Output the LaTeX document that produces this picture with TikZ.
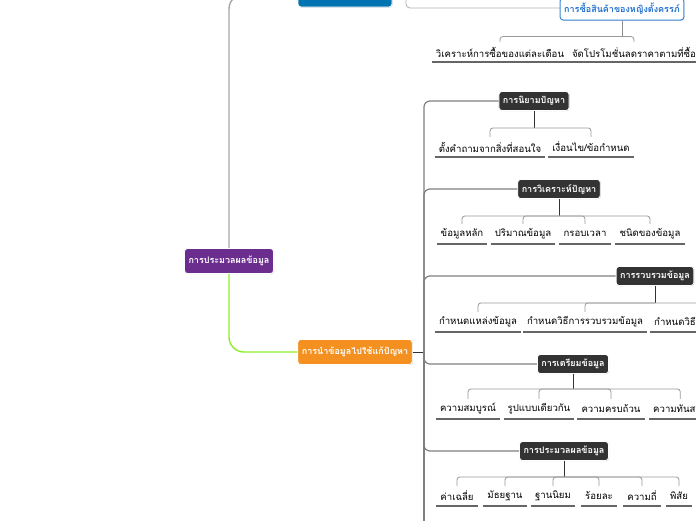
\documentclass[tikz,border=0pt]{standalone}
\usepackage{fontspec}
\setmainfont[Script=Thai]{Loma}
\usetikzlibrary{shadows}
\definecolor{purp}{HTML}{6B2D8E}
\definecolor{orng}{HTML}{F39020}
\definecolor{blu}{HTML}{0073B3}
\definecolor{blueline}{HTML}{3A86D8}
\definecolor{bluetext}{HTML}{1F6FD0}
\definecolor{lime}{HTML}{8CF02A}
\begin{document}
\begin{tikzpicture}[x=1pt,y=-1pt,
  font=\fontsize{9.6}{11}\selectfont,
  topic/.style={rounded corners=3pt, text=white, font=\bfseries\fontsize{9}{10}\selectfont,
    inner xsep=4pt, inner ysep=0pt, minimum height=19pt, draw=white, line width=0.8pt,
    drop shadow={shadow xshift=0.6pt, shadow yshift=-0.6pt, opacity=0.35}},
  darknode/.style={topic, fill=black!80},
  leaf/.style={minimum height=20pt, inner xsep=4pt, inner ysep=0pt},
  uline/.style={draw=black!60, line width=1.6pt},
  br/.style={draw=black!40, line width=0.8pt, rounded corners=3pt},
  stem/.style={draw=black!80, line width=1pt},
  trunk/.style={draw=black!50, line width=1.2pt, rounded corners=6pt}]
\useasboundingbox (0,0) rectangle (696,520);
\clip (0,0) rectangle (696,520);
\fill[white] (0,0) rectangle (696,520);

% top grey frame
\draw[black!30, line width=0.8pt, rounded corners=4pt] (406,-60) rectangle (620,8);

% main nodes
\node[topic, fill=purp, minimum width=88pt, minimum height=25pt] (root) at (229,261) {การประมวลผลข้อมูล};
\node[topic, fill=blu, minimum width=94pt, minimum height=26pt] (blue) at (345,-6) {};
\node[topic, fill=orng, minimum width=113pt, minimum height=25pt] (use) at (355,352) {การนำข้อมูลไปใช้แก้ปัญหา};

\draw[draw=black!35, line width=1.4pt, rounded corners=15pt] (root.north) |- (blue.west);
\draw[draw=lime, line width=1.4pt, rounded corners=15pt] (root.south) |- (use.west);

% top blue-outline node
\node[rounded corners=3pt, draw=blueline, line width=1pt, fill=white, text=bluetext,
  font=\bfseries\fontsize{9}{10}\selectfont, minimum height=22pt, inner xsep=4pt, inner ysep=0pt,
  drop shadow={shadow xshift=0.6pt, shadow yshift=-0.6pt, opacity=0.3}] (buy) at (622,9) {การซื้อสินค้าของหญิงตั้งครรภ์};

% hub
\coordinate (hub) at (424,352);
\coordinate (down) at (424,530);
\draw[stem] (use.east) -- (hub);

\node[darknode] (n1) at (534,101) {การนิยามปัญหา};
\node[darknode] (n2) at (559,189) {การวิเคราะห์ปัญหา};
\node[darknode] (n3) at (655,276) {การรวบรวมข้อมูล};
\node[darknode] (n4) at (573,364) {การเตรียมข้อมูล};
\node[darknode] (n5) at (564,451) {การประมวลผลข้อมูล};

\foreach \n in {n1,n2,n3,n4,n5} { \draw[trunk] (hub) |- (\n.west); }
\draw[trunk] (hub) -- (down);

% leaves
\node[leaf] (a1) at (500,52) {วิเคราะห์การซื้อของแต่ละเดือน};
\node[leaf] (a2) at (634,52) {จัดโปรโมชั่นลดราคาตามที่ซื้อ};

\node[leaf] (b1) at (490,147) {ตั้งคำถามจากสิ่งที่สอนใจ};
\node[leaf] (b2) at (591,147) {เงื่อนไข/ข้อกำหนด};

\node[leaf] (c1) at (462,234) {ข้อมูลหลัก};
\node[leaf] (c2) at (523,234) {ปริมาณข้อมูล};
\node[leaf] (c3) at (585,234) {กรอบเวลา};
\node[leaf] (c4) at (650,234) {ชนิดของข้อมูล};

\node[leaf] (d1) at (478,322) {กำหนดแหล่งข้อมูล};
\node[leaf] (d2) at (585,322) {กำหนดวิธีการรวบรวมข้อมูล};
\node[leaf, anchor=west] (d3) at (650,322) {กำหนดวิธีการจัดเก็บข้อมูล};

\node[leaf] (e1) at (468,409) {ความสมบูรณ์};
\node[leaf] (e2) at (539,409) {รูปแบบเดียวกัน};
\node[leaf] (e3) at (611,409) {ความครบถ้วน};
\node[leaf, anchor=west] (e4) at (649,409) {ความทันสมัย};

\node[leaf] (f1) at (457,496) {ค่าเฉลี่ย};
\node[leaf] (f2) at (505,496) {มัธยฐาน};
\node[leaf] (f3) at (553,496) {ฐานนิยม};
\node[leaf] (f4) at (599,496) {ร้อยละ};
\node[leaf] (f5) at (642,496) {ความถี่};
\node[leaf] (f6) at (679,496) {พิสัย};

\foreach \l in {a1,a2,b1,b2,c1,c2,c3,c4,d1,d2,d3,e1,e2,e3,e4,f1,f2,f3,f4,f5,f6}
  { \draw[uline] (\l.south west) -- (\l.south east); }

% stems and brackets
\draw[draw=black!45, line width=1pt] (buy.south) -- ++(0,16) coordinate (ka);
\foreach \l in {a1,a2} { \draw[br] (ka) -| (\l.north); }
\draw[stem] (n1.south) -- ++(0,17) coordinate (kb);
\foreach \l in {b1,b2} { \draw[br] (kb) -| (\l.north); }
\draw[stem] (n2.south) -- ++(0,17) coordinate (kc);
\foreach \l in {c1,c2,c3,c4} { \draw[br] (kc) -| (\l.north); }
\draw[stem] (n3.south) -- ++(0,17) coordinate (kd);
\foreach \l in {d1,d2} { \draw[br] (kd) -| (\l.north); }
\draw[br] (kd) -| (d3.north);
\draw[stem] (n4.south) -- ++(0,15) coordinate (ke);
\foreach \l in {e1,e2,e3,e4} { \draw[br] (ke) -| (\l.north); }
\draw[stem] (n5.south) -- ++(0,16) coordinate (kf);
\foreach \l in {f1,f2,f3,f4,f5,f6} { \draw[br] (kf) -| (\l.north); }
\end{tikzpicture}
\end{document}
